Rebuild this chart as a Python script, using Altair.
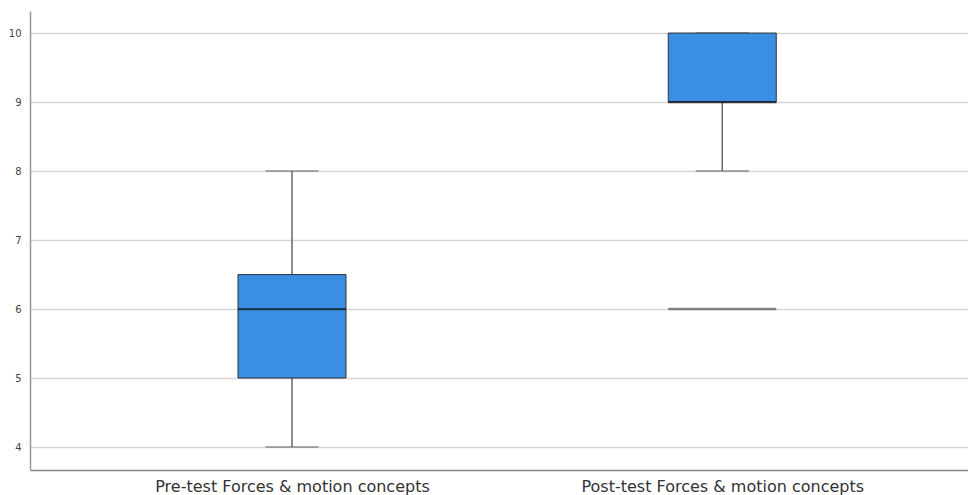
import altair as alt
import pandas as pd

categories = ["Pre-test Forces & motion concepts", "Post-test Forces & motion concepts"]
mins = [4, 8]
q1s = [5, 9]
medians = [6, 9]
q3s = [6.5, 10]
maxs = [8, 10]
outlier_cats = ["Post-test Forces & motion concepts"]
outlier_vals = [6]

df = pd.DataFrame({"cat": categories, "min": mins, "q1": q1s, "median": medians,
                   "q3": q3s, "max": maxs})
out_df = pd.DataFrame({"cat": outlier_cats, "val": outlier_vals})

xenc = alt.X("cat:N", sort=categories, title=None,
             scale=alt.Scale(type="point", padding=0.59, align=0.516),
             axis=alt.Axis(labelAngle=0, labelFontSize=16, labelColor="#333",
                           labelFont="DejaVu Sans", labelPadding=8, labelLimit=0,
                           ticks=False, domainColor="#888", domainWidth=1.5,
                           grid=False))
yscale = alt.Scale(domain=[3.667, 10.32], nice=False, zero=False)
yaxis = alt.Axis(values=[4, 5, 6, 7, 8, 9, 10], format="d", title=None, ticks=False,
                 labelFontSize=10, labelColor="#444", labelFont="DejaVu Sans",
                 labelPadding=9, domainColor="#999", domainWidth=1.5,
                 gridColor="#d6d6d6", gridWidth=1.5)

base = alt.Chart(df)

lower = base.mark_rule(color="#666", strokeWidth=1.5).encode(
    x=xenc, y=alt.Y("min:Q", scale=yscale, axis=yaxis), y2="q1:Q")
upper = base.mark_rule(color="#666", strokeWidth=1.5).encode(
    x=xenc, y=alt.Y("q3:Q", scale=yscale, axis=yaxis), y2="max:Q")
cap_lo = base.mark_tick(color="#666", size=53, thickness=1.5, orient="horizontal").encode(
    x=xenc, y=alt.Y("min:Q", scale=yscale))
cap_hi = base.mark_tick(color="#666", size=53, thickness=1.5, orient="horizontal").encode(
    x=xenc, y=alt.Y("max:Q", scale=yscale))
box = base.mark_bar(size=108, color="#3a8ee3", stroke="#333", strokeWidth=1).encode(
    x=xenc, y=alt.Y("q1:Q", scale=yscale, axis=yaxis), y2="q3:Q")
med = base.mark_tick(color="#111", size=108, thickness=2.2, orient="horizontal").encode(
    x=xenc, y=alt.Y("median:Q", scale=yscale))
outl = alt.Chart(out_df).mark_tick(color="#555", size=108, thickness=2.5,
                                   orient="horizontal").encode(
    x=xenc, y=alt.Y("val:Q", scale=yscale))

chart = alt.layer(lower, upper, cap_lo, cap_hi, box, med, outl).properties(
    width=938, height=459,
    autosize=alt.AutoSizeParams(type="none"),
    padding={"left": 22, "top": 3, "right": 0, "bottom": 30},
    background="white",
).configure_view(stroke=None)

chart.save("out.html", embed_options={"renderer": "svg", "actions": False})
